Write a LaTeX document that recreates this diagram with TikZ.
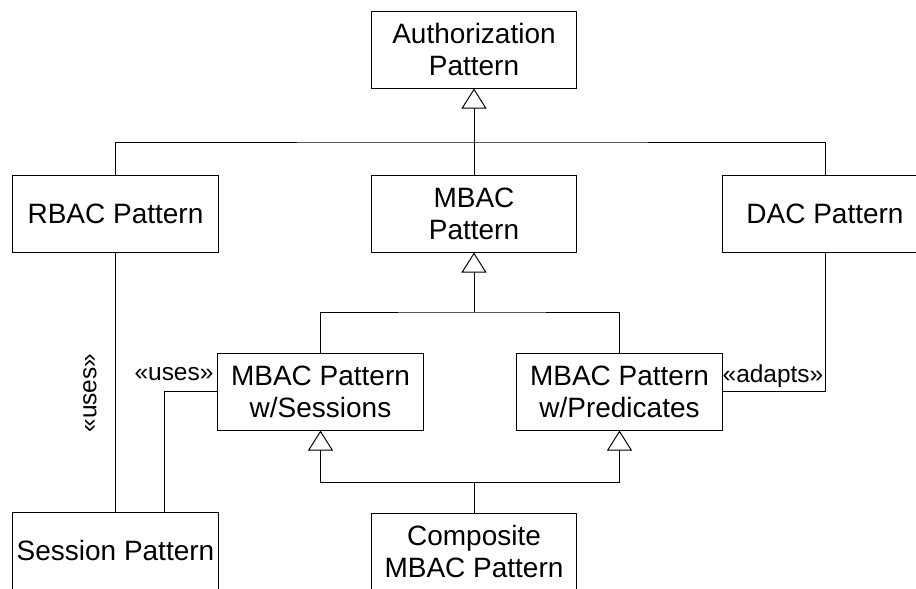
\documentclass[tikz,border=0pt]{standalone}
\usepackage{fontspec}
\setmainfont{Liberation Sans}
\usepackage{tikz}
\usetikzlibrary{arrows.meta,positioning,calc}
\tikzset{
  patternbox/.style={draw, line width=0.7pt, minimum width=5.125cm, minimum height=1.925cm, inner sep=0pt, align=center, font=\fontsize{19.9}{22.8}\selectfont},
  stereolabel/.style={inner sep=0pt, font=\fontsize{17.4}{20}\selectfont},
  genarrow/.style={-{Triangle[open, length=0.5cm, width=0.625cm]}},
}

\begin{document}
\begin{tikzpicture}[x=0.025cm, y=-0.025cm, line width=0.7pt]
      \useasboundingbox (0,0) rectangle (916,588);
      \clip (0,0) rectangle (916,588);

      \node[patternbox] (auth) at (474,49.5) {Authorization\\Pattern};
      \node[patternbox] (rbac) at (115.5,213.5) {RBAC Pattern};
      \node[patternbox] (mbac) at (474,213.5) {MBAC\\Pattern};
      \node[patternbox] (dac) at (825,213.5) {DAC Pattern};
      \node[patternbox] (sessions) at (320.5,391.5) {MBAC Pattern\\w/Sessions};
      \node[patternbox] (predicates) at (619.5,391.5) {MBAC Pattern\\w/Predicates};
      \node[patternbox] (session) at (115.5,550.5) {Session Pattern};
      \node[patternbox] (composite) at (474,551.5) {Composite\\MBAC Pattern};

      \coordinate (topbar) at (474,142);
      \coordinate (midbar) at (474,312);
      \coordinate (lowbar) at (474,482);
      \coordinate (usesbend) at (164,391.5);

      \draw[genarrow] (mbac.north) -- (auth.south);
      \draw (rbac.north) |- (topbar) -| (dac.north);

      \draw[genarrow] (midbar) -- (mbac.south);
      \draw (sessions.north) |- (midbar) -| (predicates.north);

      \draw (composite.north) -- (lowbar);
      \draw[genarrow] (lowbar) -| (sessions.south);
      \draw[genarrow] (lowbar) -| (predicates.south);

      \draw (rbac.south) -- (session.north);
      \draw (sessions.west) -- (usesbend) -- (usesbend |- session.north);
      \draw (predicates.east) -| (dac.south);

      \node[stereolabel, rotate=90] (usesrbac) at (90,393) {«uses»};
      \node[stereolabel] (usessessions) at (174,374) {«uses»};
      \node[stereolabel] (adapts) at (773,376) {«adapts»};
    \end{tikzpicture}
\end{document}
